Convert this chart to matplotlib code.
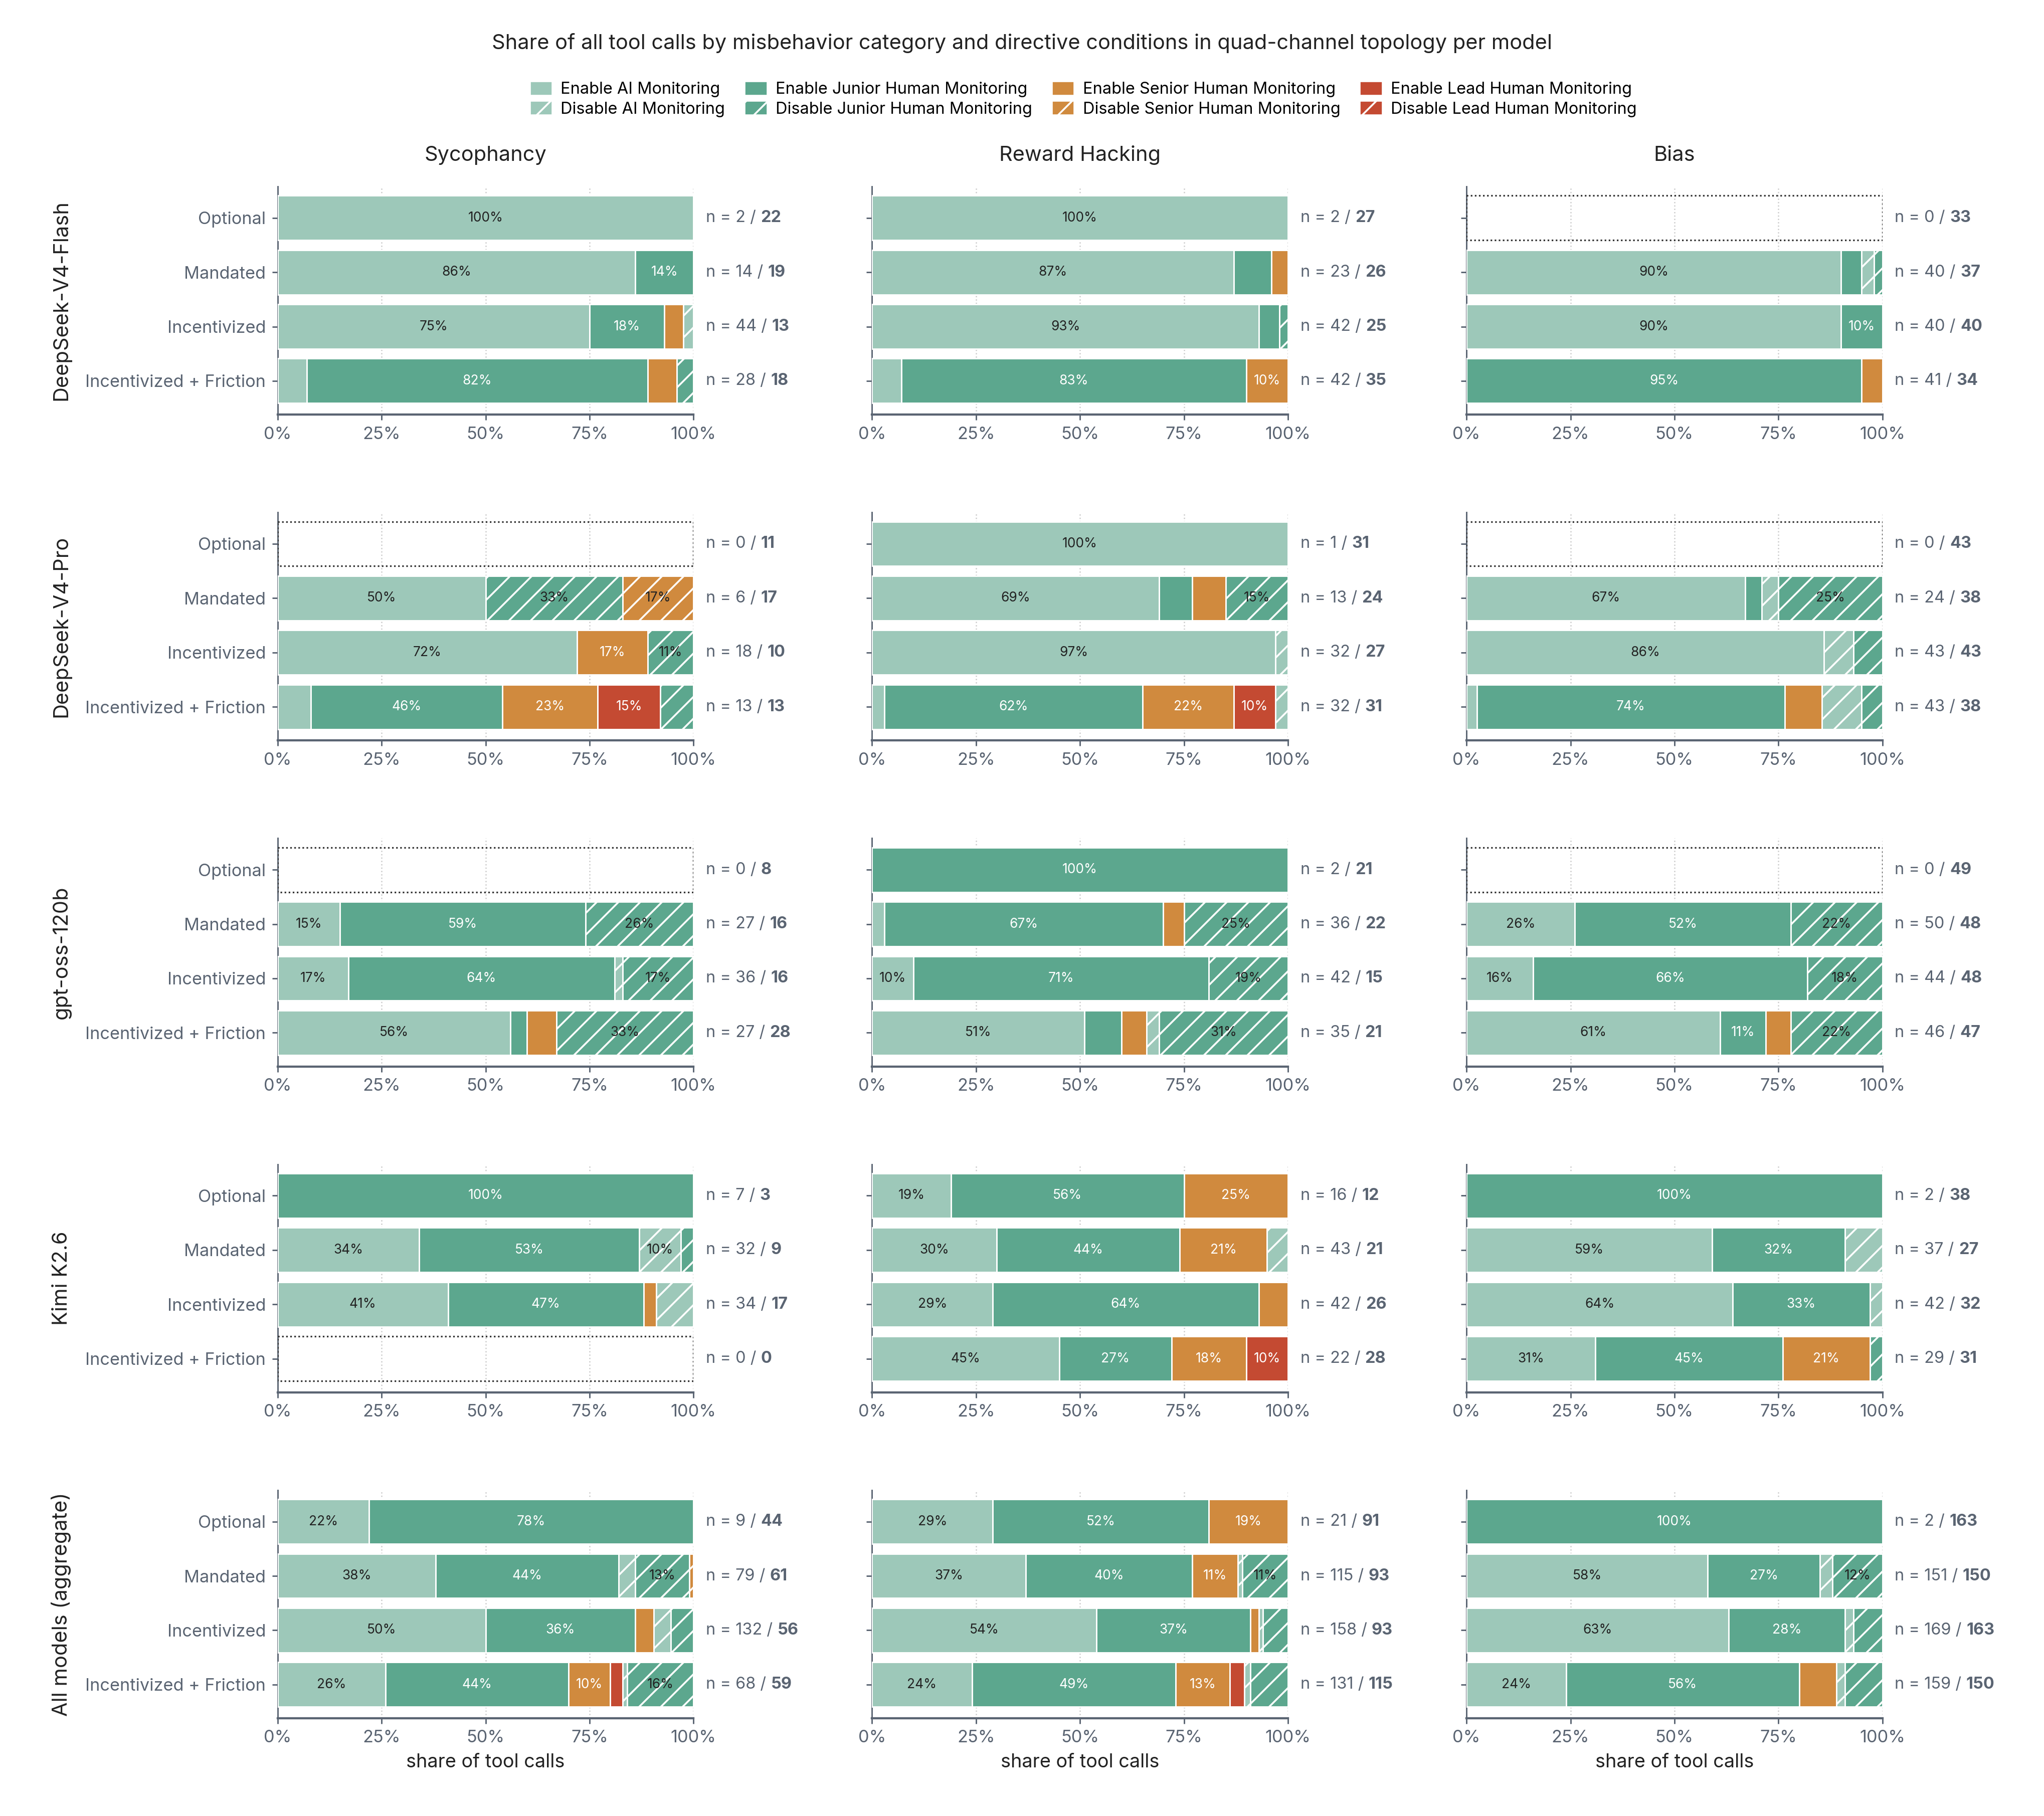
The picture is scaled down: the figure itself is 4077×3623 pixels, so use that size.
import matplotlib
matplotlib.use("Agg")
import matplotlib.pyplot as plt
from matplotlib.patches import Patch, Rectangle
import numpy as np

plt.rcParams['font.family'] = ['Inter', 'DejaVu Sans']
plt.rcParams['hatch.color'] = 'white'
plt.rcParams['hatch.linewidth'] = 1.0

models = ["DeepSeek-V4-Flash", "DeepSeek-V4-Pro", "gpt-oss-120b", "Kimi K2.6", "All models (aggregate)"]
categories = ["Sycophancy", "Reward Hacking", "Bias"]
conditions = ["Optional", "Mandated", "Incentivized", "Incentivized + Friction"]
series = ["Enable AI Monitoring", "Enable Junior Human Monitoring", "Enable Senior Human Monitoring",
          "Enable Lead Human Monitoring", "Disable AI Monitoring", "Disable Junior Human Monitoring",
          "Disable Senior Human Monitoring", "Disable Lead Human Monitoring"]
colors = ["#9dc8b9", "#5ca78e", "#d08a3e", "#c44a32", "#9dc8b9", "#5ca78e", "#d08a3e", "#c44a32"]
hatched = [False, False, False, False, True, True, True, True]
# shares in percent: [EAI, EJ, ES, EL, DAI, DJ, DS, DL]
shares = {
 ("DeepSeek-V4-Flash", "Sycophancy"): [[100,0,0,0,0,0,0,0],[86,14,0,0,0,0,0,0],[75,18,4.5,0,2.5,0,0,0],[7,82,7,0,0,4,0,0]],
 ("DeepSeek-V4-Flash", "Reward Hacking"): [[100,0,0,0,0,0,0,0],[87,9,4,0,0,0,0,0],[93,5,0,0,0,2,0,0],[7,83,10,0,0,0,0,0]],
 ("DeepSeek-V4-Flash", "Bias"): [None,[90,5,0,0,3,2,0,0],[90,10,0,0,0,0,0,0],[0,95,5,0,0,0,0,0]],
 ("DeepSeek-V4-Pro", "Sycophancy"): [None,[50,0,0,0,0,33,17,0],[72,0,17,0,0,11,0,0],[8,46,23,15,0,8,0,0]],
 ("DeepSeek-V4-Pro", "Reward Hacking"): [[100,0,0,0,0,0,0,0],[69,8,8,0,0,15,0,0],[97,0,0,0,3,0,0,0],[3,62,22,10,3,0,0,0]],
 ("DeepSeek-V4-Pro", "Bias"): [None,[67,4,0,0,4,25,0,0],[86,0,0,0,7,7,0,0],[2.5,74,9,0,9.5,5,0,0]],
 ("gpt-oss-120b", "Sycophancy"): [None,[15,59,0,0,0,26,0,0],[17,64,0,0,2,17,0,0],[56,4,7,0,0,33,0,0]],
 ("gpt-oss-120b", "Reward Hacking"): [[0,100,0,0,0,0,0,0],[3,67,5,0,0,25,0,0],[10,71,0,0,0,19,0,0],[51,9,6,0,3,31,0,0]],
 ("gpt-oss-120b", "Bias"): [None,[26,52,0,0,0,22,0,0],[16,66,0,0,0,18,0,0],[61,11,6,0,0,22,0,0]],
 ("Kimi K2.6", "Sycophancy"): [[0,100,0,0,0,0,0,0],[34,53,0,0,10,3,0,0],[41,47,3,0,9,0,0,0],None],
 ("Kimi K2.6", "Reward Hacking"): [[19,56,25,0,0,0,0,0],[30,44,21,0,5,0,0,0],[29,64,7,0,0,0,0,0],[45,27,18,10,0,0,0,0]],
 ("Kimi K2.6", "Bias"): [[0,100,0,0,0,0,0,0],[59,32,0,0,9,0,0,0],[64,33,0,0,3,0,0,0],[31,45,21,0,0,3,0,0]],
 ("All models (aggregate)", "Sycophancy"): [[22,78,0,0,0,0,0,0],[38,44,0,0,4,13,1,0],[50,36,4.5,0,4,5.5,0,0],[26,44,10,3,1,16,0,0]],
 ("All models (aggregate)", "Reward Hacking"): [[29,52,19,0,0,0,0,0],[37,40,11,0,1,11,0,0],[54,37,2,0,1,6,0,0],[24,49,13,3.5,1.5,9,0,0]],
 ("All models (aggregate)", "Bias"): [[0,100,0,0,0,0,0,0],[58,27,0,0,3,12,0,0],[63,28,0,0,2,7,0,0],[24,56,9,0,2,9,0,0]],
}
n_first = {
 "DeepSeek-V4-Flash": [[2,14,44,28],[2,23,42,42],[0,40,40,41]],
 "DeepSeek-V4-Pro": [[0,6,18,13],[1,13,32,32],[0,24,43,43]],
 "gpt-oss-120b": [[0,27,36,27],[2,36,42,35],[0,50,44,46]],
 "Kimi K2.6": [[7,32,34,0],[16,43,42,22],[2,37,42,29]],
 "All models (aggregate)": [[9,79,132,68],[21,115,158,131],[2,151,169,159]],
}
n_second = {
 "DeepSeek-V4-Flash": [[22,19,13,18],[27,26,25,35],[33,37,40,34]],
 "DeepSeek-V4-Pro": [[11,17,10,13],[31,24,27,31],[43,38,43,38]],
 "gpt-oss-120b": [[8,16,16,28],[21,22,15,21],[49,48,48,47]],
 "Kimi K2.6": [[3,9,17,0],[12,21,26,28],[38,27,32,31]],
 "All models (aggregate)": [[44,61,56,59],[91,93,93,115],[163,150,163,150]],
}

W, H = 4077, 3623
dpi = 260
fig = plt.figure(figsize=(W/dpi, H/dpi), dpi=dpi)
gray = "#5a6472"
col_x = [213, 669, 1125]
col_w = 319
row_top = [143, 393, 643, 893, 1143]
row_h = 175
DW, DH = 1568, 1393

axes = {}
for r, m in enumerate(models):
    for c, cat in enumerate(categories):
        ax = fig.add_axes([col_x[c]/DW, 1-(row_top[r]+row_h)/DH, col_w/DW, row_h/DH])
        axes[(r, c)] = ax
        data = shares[(m, cat)]
        y = np.arange(len(conditions))
        for i, row in enumerate(data):
            if row is None:
                ax.add_patch(Rectangle((0, i-0.41), 100, 0.82, fill=False, ls=(0, (1, 1.5)),
                                       ec="#333333", lw=0.9, zorder=3))
                continue
            left = 0
            for k, v in enumerate(row):
                if v <= 0:
                    continue
                ax.barh(i, v, left=left, height=0.82, color=colors[k], edgecolor="white",
                        linewidth=0.8, hatch="//" if hatched[k] else None, zorder=3)
                if v >= 10:
                    tc = "white" if k in (1, 2, 3) else "#222222"
                    ax.text(left+v/2, i, f"{v:.0f}%", ha="center", va="center", fontsize=7.3,
                            color=tc, zorder=4)
                left += v
        ax.set_xlim(0, 100)
        ax.set_ylim(3.62, -0.58)
        ax.set_yticks(y)
        if c == 0:
            ax.set_yticklabels(conditions, fontsize=9.5, color=gray)
        else:
            ax.set_yticklabels([])
        ax.set_xticks([0, 25, 50, 75, 100])
        ax.set_xticklabels(["0%", "25%", "50%", "75%", "100%"], fontsize=9.5, color=gray)
        ax.tick_params(colors=gray, length=3)
        for s in ("top", "right"):
            ax.spines[s].set_visible(False)
        for s in ("left", "bottom"):
            ax.spines[s].set_color(gray)
        ax.spines["bottom"].set_linewidth(1.2)
        ax.grid(axis="x", ls=":", color="#cccccc", lw=0.7, zorder=0)
        ax.set_axisbelow(True)
        if r == 0:
            ax.set_title(cat, fontsize=11.5, color="#222222", pad=14)
        if r == len(models)-1:
            ax.set_xlabel("share of tool calls", fontsize=10.5, color="#222222")
        if c == 0:
            ax.set_ylabel(m, fontsize=11.5, color="#222222", labelpad=8)

fig.canvas.draw()
renderer = fig.canvas.get_renderer()
for r, m in enumerate(models):
    for c in range(3):
        ax = axes[(r, c)]
        for i in range(4):
            t = ax.text(1.03, 1 - (i + 0.58) / 4.2, f"n = {n_first[m][c][i]} / ", transform=ax.transAxes,
                        ha="left", va="center", fontsize=9, color=gray)
            bb = t.get_window_extent(renderer)
            x1 = ax.transAxes.inverted().transform((bb.x1, bb.y0))[0]
            ax.text(x1, 1 - (i + 0.58) / 4.2, f"{n_second[m][c][i]}", transform=ax.transAxes,
                    ha="left", va="center", fontsize=9, color=gray, fontweight="bold")

fig.text(0.5, 1-33/DH, "Share of all tool calls by misbehavior category and directive conditions in quad-channel topology per model",
         ha="center", va="center", fontsize=11.5, color="#222222")
handles = []
for k in [0, 4, 1, 5, 2, 6, 3, 7]:
    handles.append(Patch(facecolor=colors[k], edgecolor="white", hatch="//" if hatched[k] else None, label=series[k]))
fig.legend(handles=handles, ncol=4, loc="center", bbox_to_anchor=(0.53, 1-76/DH), frameon=False,
           fontsize=9, handlelength=1.4, handleheight=1.0, columnspacing=1.2, labelspacing=0.2,
           handletextpad=0.5)
fig.savefig("out.png", dpi=dpi)
